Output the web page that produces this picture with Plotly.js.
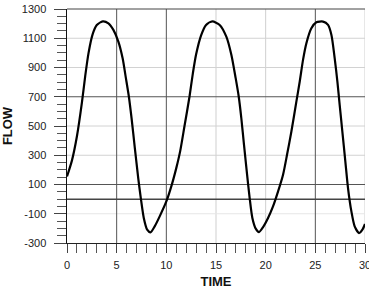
<!DOCTYPE html>
<html>
<head>
<meta charset="utf-8">
<script src="https://cdn.plot.ly/plotly-3.0.1.min.js"></script>
<style>html,body{margin:0;padding:0;background:#fff;}#chart{width:369px;height:291px;}</style>
</head>
<body>
<div id="chart"></div>
<script>
const time = [0, 0.5, 1.0, 1.5, 1.83, 2.17, 2.57, 3.0, 3.6, 4.17, 4.67, 5.17, 5.6, 5.93, 6.23, 6.5, 6.83, 7.17, 7.43, 7.73, 8.07, 8.4, 8.83, 9.33, 10.0, 10.5, 11.0, 11.4, 11.83, 12.33, 12.67, 13.0, 13.5, 14.0, 14.63, 15.37, 16.04, 16.55, 16.98, 17.29, 17.55, 17.82, 18.13, 18.39, 18.66, 19.0, 19.33, 19.74, 20.24, 20.74, 21.25, 21.75, 22.15, 22.59, 23.09, 23.43, 23.76, 24.1, 24.6, 25.1, 25.78, 26.28, 26.62, 26.95, 27.22, 27.45, 27.72, 28.02, 28.29, 28.63, 28.96, 29.4, 29.74, 30.0];
const flow = [155, 265, 430, 660, 840, 1000, 1125, 1190, 1215, 1202, 1157, 1077, 963, 827, 700, 553, 349, 144, 7, -129, -209, -227, -186, -118, -16, 87, 212, 330, 500, 700, 860, 990, 1120, 1191, 1215, 1191, 1111, 986, 827, 700, 553, 371, 167, 7, -129, -202, -225, -191, -129, -50, 53, 167, 303, 462, 667, 804, 952, 1066, 1168, 1209, 1214, 1191, 1122, 963, 804, 645, 462, 258, 76, -84, -186, -232, -209, -170];
const yTicks = [1300, 1100, 900, 700, 500, 300, 100, -100, -300];
const xTicks = [0, 5, 10, 15, 20, 25, 30];
const darkX = [5, 10, 25];
const darkY = [700, 100, 0];

const shapes = [];
// light grid
xTicks.filter(v => v > 0 && darkX.indexOf(v) < 0).forEach(v => shapes.push({type:'line', xref:'x', yref:'paper', x0:v, x1:v, y0:0, y1:1, line:{color:'#cfcfcf', width:1}, layer:'below'}));
yTicks.filter(v => v > -300 && v < 1300 && darkY.indexOf(v) < 0).forEach(v => shapes.push({type:'line', xref:'paper', yref:'y', x0:0, x1:1, y0:v, y1:v, line:{color: v === -100 ? '#e6e6e6' : '#d2d2d2', width:1}, layer:'below'}));
// dark grid
darkX.forEach(v => shapes.push({type:'line', xref:'x', yref:'paper', x0:v, x1:v, y0:0, y1:1, line:{color:'#555', width:1}, layer:'below'}));
darkY.forEach(v => shapes.push({type:'line', xref:'paper', yref:'y', x0:0, x1:1, y0:v, y1:v, line:{color: v===0 ? '#444' : '#555', width: v===0 ? 1.5 : 1}, layer:'below'}));
// top border
shapes.push({type:'line', xref:'paper', yref:'paper', x0:0, x1:1, y0:1, y1:1, line:{color:'#444', width:1}});

const trace = {x: time, y: flow, type:'scatter', mode:'lines', line:{color:'#000', width:2.2, shape:'spline', smoothing:0.7}, hoverinfo:'skip'};

const layout = {
  width:369, height:291,
  margin:{l:67, r:4, t:9, b:48},
  paper_bgcolor:'#fff', plot_bgcolor:'#fff',
  showlegend:false,
  font:{family:'"Liberation Sans", Arial, sans-serif', color:'#222', size:11},
  xaxis:{
    range:[0,30], tickvals:xTicks, ticktext:xTicks.map(String),
    showgrid:false,
    zeroline:false, showline:true, linecolor:'#222', linewidth:1,
    ticks:'outside', ticklen:9, tickcolor:'#444', tickwidth:1,
    minor:{dtick:1, tick0:0, ticks:'outside', ticklen:9, tickcolor:'#555', showgrid:false},
    tickfont:{size:11, color:'#222'}, ticklabelstandoff:3, ticklabeloverflow:'allow',
    title:{text:'<b>TIME</b>', font:{size:13, color:'#111'}, standoff:6},
    automargin:false, fixedrange:true
  },
  yaxis:{
    range:[-300,1300], tickvals:yTicks, ticktext:yTicks.map(String),
    showgrid:false,
    zeroline:false, showline:true, linecolor:'#111', linewidth:1.5,
    ticks:'outside', ticklen:12, tickcolor:'#444', tickwidth:1,
    minor:{dtick:50, tick0:-300, ticks:'outside', ticklen:9, tickcolor:'#555', showgrid:false},
    tickfont:{size:11, color:'#222'}, ticklabelstandoff:5,
    title:{text:'<b>FLOW</b>', font:{size:13, color:'#111'}, standoff:8},
    automargin:false, fixedrange:true
  },
  shapes: shapes
};

Plotly.newPlot('chart', [trace], layout, {displayModeBar:false, staticPlot:true});
</script>
</body>
</html>
